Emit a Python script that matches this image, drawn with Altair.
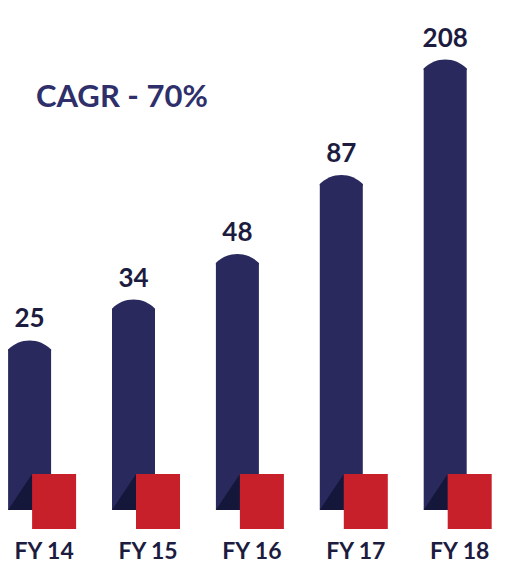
import altair as alt
import pandas as pd

# ---- data ----
years = ["FY 14", "FY 15", "FY 16", "FY 17", "FY 18"]
values = [25, 34, 48, 87, 208]
headline = ["CAGR - 70%"]

NAVY = "#29295d"
DARK = "#14163a"
RED = "#c8202a"
LABEL = "#1c1c40"
HEAD = "#2e2f6b"
FONT = "Lato"

Y_MIN, Y_MAX = 7.45, 348.8

df = pd.DataFrame({"year": years, "value": values})

x_enc = alt.X(
    "year:N",
    sort=years,
    scale=alt.Scale(type="point", range=[29.6, 445.2], padding=0),
    axis=alt.Axis(
        title=None, domain=False, ticks=False, grid=False,
        labelOffset=14, labelPadding=48, labelBaseline="alphabetic",
        labelFont=FONT, labelFontSize=23, labelFontWeight="bold",
        labelColor=LABEL, labelAngle=0,
    ),
)
y_scale = alt.Scale(type="log", domain=[Y_MIN, Y_MAX], nice=False)
y_val = alt.Y("value:Q", scale=y_scale, axis=None)
y_base = alt.YDatum(Y_MIN, scale=y_scale, axis=None)

base = alt.Chart(df)

bars = base.mark_bar(width=43, color=NAVY).encode(
    x=x_enc,
    y=y_val,
    y2=alt.datum(Y_MIN),
)

cap_path = "M -21.5 1.5 L -21.5 0 A 30 30 0 0 1 21.5 0 L 21.5 1.5 Z"
caps = base.mark_point(
    shape=cap_path, size=4, filled=True, fill=NAVY, opacity=1, strokeWidth=0
).encode(x=x_enc, y=y_val)

tri_path = "M -21.5 0 L 2.5 -36 L 2.5 0 Z"
tris = base.mark_point(
    shape=tri_path, size=4, filled=True, fill=DARK, opacity=1, strokeWidth=0
).encode(x=x_enc, y=y_base)

sq_path = "M 2.5 -36 L 46.5 -36 L 46.5 19 L 2.5 19 Z"
squares = base.mark_point(
    shape=sq_path, size=4, filled=True, fill=RED, opacity=1, strokeWidth=0
).encode(x=x_enc, y=y_base)

labels = base.mark_text(
    dy=-22, baseline="alphabetic", align="center",
    font=FONT, fontSize=26, fontWeight="bold", color=LABEL,
).encode(
    x=x_enc,
    y=y_val,
    text=alt.Text("value:Q"),
)

head = alt.Chart(pd.DataFrame({"t": headline})).mark_text(
    align="left", baseline="alphabetic",
    font=FONT, fontSize=31, fontWeight="bold", color=HEAD,
).encode(x=alt.value(36), y=alt.value(107), text="t:N")

chart = alt.layer(bars, caps, tris, squares, labels, head).properties(
    width=510,
    height=510,
    autosize=alt.AutoSizeParams(type="none"),
    padding={"left": 0, "top": 0, "right": 0, "bottom": 54},
    background="white",
).configure_view(stroke=None)

chart.save("out.html", embed_options={"renderer": "svg", "actions": False})
